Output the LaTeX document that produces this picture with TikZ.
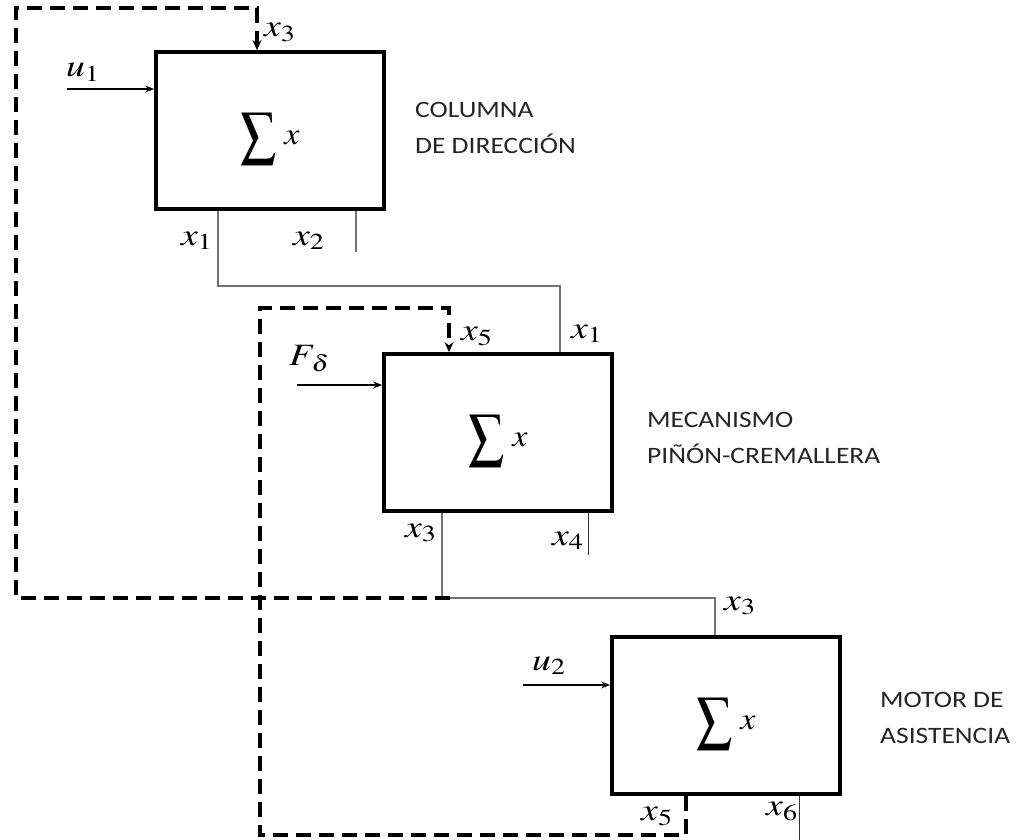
\documentclass[tikz,border=0pt]{standalone}
\usepackage{graphicx}
\usepackage{mathptmx}
\usepackage[no-math]{fontspec}
\newfontfamily\blockfont{Carlito}[FakeStretch=1.17]
\usetikzlibrary{arrows.meta,calc}
\newcommand\sig[1]{\scalebox{1.22}[1]{$#1$}}
\newcommand\sumx{{\fontsize{42}{46}\selectfont\scalebox{0.84}[1]{$\displaystyle\sum$}}\hspace{8pt}\raisebox{5pt}{\fontsize{31}{34}\selectfont\scalebox{1.1}[1]{$x$}}}
\begin{document}
\begin{tikzpicture}[x=1pt,y=-1pt,
 box/.style={draw,line width=3.8pt,minimum width=228pt,minimum height=157pt,inner sep=0pt},
 sumtext/.style={inner sep=0pt,yshift=-8.5pt},
 wire/.style={draw=black!55,line width=1.3pt},
 fb/.style={line width=3.4pt,dash pattern=on 15pt off 8pt},
 fbarrow/.style={fb,-{Stealth[length=10pt,width=9pt]}},
 inarrow/.style={line width=1.1pt,-{Stealth[length=9pt,width=7pt]}},
 lab/.style={anchor=base west,inner sep=0pt,font=\fontsize{31}{34}\selectfont},
 blockname/.style={anchor=north west,inner sep=0pt,align=left,font=\blockfont\fontsize{23.5}{36.5}\selectfont,text=black!85}]
\useasboundingbox (0,0) rectangle (1022,840);

% blocks
\node[box] (b1) at (270,130.5) {};
\node[box] (b2) at (498,432.5) {};
\node[box] (b3) at (726,715.5) {};
\node[sumtext] (s1) at (b1.center) {\sumx};
\node[sumtext] (s2) at (b2.center) {\sumx};
\node[sumtext] (s3) at (b3.center) {\sumx};

% block names
\node[blockname] (n1) at (415,102) {COLUMNA\\DE DIRECCIÓN};
\node[blockname] (n2) at (647,412) {MECANISMO\\PIÑÓN-CREMALLERA};
\node[blockname] (n3) at (880,692) {MOTOR DE\\ASISTENCIA};

% inputs
\coordinate (u1s) at (67,89);
\coordinate (fs) at (297,385);
\coordinate (u2s) at (523,685);
\draw[inarrow] (u1s) -- (u1s -| b1.west);
\draw[inarrow] (fs) -- (fs -| b2.west);
\draw[inarrow] (u2s) -- (u2s -| b3.west);
\node[lab] (lu1) at (66,77) {\sig{u_1}};
\node[lab] (lf) at (289,365) {\sig{F_{\,\delta}}};
\node[lab] (lu2) at (532,670) {\sig{u_2}};

% x1 connection
\coordinate (c1) at (218,286);
\coordinate (c1e) at (560,286);
\draw[wire] (c1 |- b1.south) -- (c1) -- (c1e) -- (c1e |- b2.north);
% x2 stub
\coordinate (x2e) at (356,252);
\draw[wire] (x2e |- b1.south) -- (x2e);
% x3 connection
\coordinate (c3) at (442,598);
\coordinate (c3e) at (715,598);
\draw[wire] (c3 |- b2.south) -- (c3) -- (c3e) -- (c3e |- b3.north);
% x4 stub
\coordinate (x4e) at (588,555);
\draw[wire,draw=black!80,line width=1pt] (x4e |- b2.south) -- (x4e);
% x6 stub
\coordinate (x6e) at (799,840);
\draw[wire,draw=black!80,line width=1pt] (x6e |- b3.south) -- (x6e);

% feedback x3 -> block 1
\coordinate (f1a) at (450,598);
\coordinate (f1b) at (16,598);
\coordinate (f1c) at (16,8);
\coordinate (f1d) at (257,8);
\draw[fbarrow] (f1a) -- (f1b) -- (f1c) -- (f1d) -- (f1d |- b1.north);
% feedback x5 -> block 2
\coordinate (f2a) at (686,835);
\coordinate (f2b) at (260,835);
\coordinate (f2c) at (260,308);
\coordinate (f2d) at (449,308);
\draw[fbarrow] (f2a |- b3.south) -- (f2a) -- (f2b) -- (f2c) -- (f2d) -- (f2d |- b2.north);

% signal labels
\node[lab] (l13) at (264,37) {\sig{x_3}};
\node[lab] (l11) at (181,245) {\sig{x_1}};
\node[lab] (l12) at (293,245) {\sig{x_2}};
\node[lab] (l25) at (461,340) {\sig{x_5}};
\node[lab] (l21) at (571,338) {\sig{x_1}};
\node[lab] (l23) at (405,537) {\sig{x_3}};
\node[lab] (l24) at (552,545) {\sig{x_4}};
\node[lab] (l33) at (724,610) {\sig{x_3}};
\node[lab] (l35) at (641,820) {\sig{x_5}};
\node[lab] (l36) at (766,815) {\sig{x_6}};
\end{tikzpicture}
\end{document}
